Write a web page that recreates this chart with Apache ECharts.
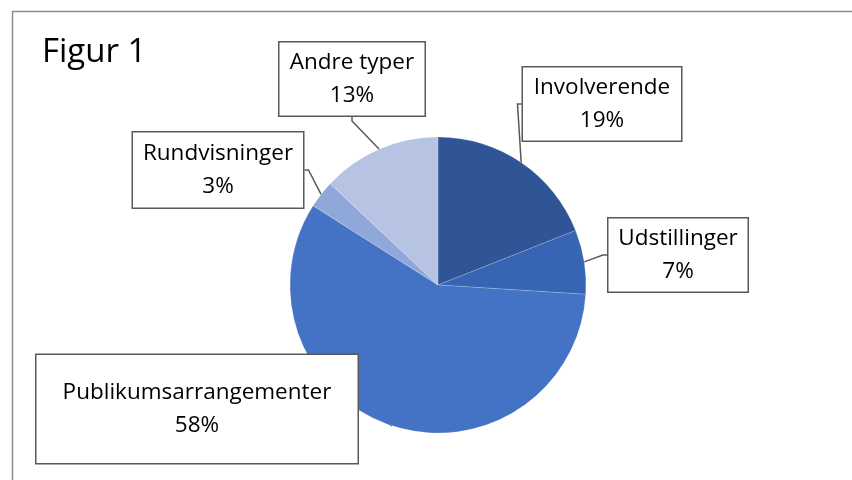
<!DOCTYPE html>
<html>
<head>
<meta charset="utf-8">
<script src="https://cdn.jsdelivr.net/npm/echarts@6/dist/echarts.min.js"></script>
<style>
html,body{margin:0;padding:0;background:#fff;}
#chart{width:852px;height:480px;}
</style>
</head>
<body>
<div id="chart"></div>
<script>
// data (clockwise from 12 o'clock)
var categories = ['Involverende', 'Udstillinger', 'Publikumsarrangementer', 'Rundvisninger', 'Andre typer'];
var values = [19, 7, 58, 3, 13];
var colors = ['#2F5597', '#3864B4', '#4472C4', '#8FA8D9', '#B6C3E3'];

// callout boxes: centre x, centre y, box width, box height
var boxes = [
	[602, 104, 160, 73],
	[678, 255, 141, 73],
	[197, 409, 323, 108],
	[218, 170, 172, 75],
	[352, 79, 147, 73]
];

var data = categories.map(function(name, i){
	var b = boxes[i];
	var padV = (b[3] - 66) / 2;
	return {
		name: name,
		value: values[i],
		itemStyle: {color: colors[i]},
		label: {
			width: b[2] - 2,
			padding: [padV + 3, 0, padV - 3, 0]
		}
	};
});

var chart = echarts.init(document.getElementById('chart'));
var option = {
	animation: false,
	graphic: [
		{ // frame
			type: 'rect',
			shape: {x: 12.5, y: 11.5, width: 900, height: 500},
			style: {fill: 'none', stroke: '#8c8c8c', lineWidth: 1.5},
			silent: true
		},
		{
			type: 'text',
			left: 42,
			top: 36,
			style: {
				text: 'Figur 1',
				fill: '#000',
				fontSize: 33,
				fontFamily: 'Open Sans'
			}
		}
	],
	series: [{
		type: 'pie',
		center: [438, 285],
		radius: [0, 148],
		startAngle: 90,
		clockwise: true,
		avoidLabelOverlap: false,
		itemStyle: {borderColor: 'rgba(255,255,255,0.35)', borderWidth: 0.5},
		label: {
			show: true,
			formatter: '{b}\n{d}%',
			color: '#000',
			fontSize: 22.5,
			lineHeight: 33,
			fontFamily: 'Open Sans',
			align: 'center',
			backgroundColor: '#fff',
			borderColor: '#595959',
			borderWidth: 1.5
		},
		labelLine: {
			show: true,
			length: 4,
			length2: 4,
			minTurnAngle: 0,
			lineStyle: {color: '#595959', width: 1.5}
		},
		labelLayout: function(params){
			var b = boxes[params.dataIndex];
			return {
				x: b[0],
				y: b[1],
				align: 'center',
				verticalAlign: 'middle'
			};
		},
		data: data
	}]
};
chart.setOption(option);
</script>
</body>
</html>
